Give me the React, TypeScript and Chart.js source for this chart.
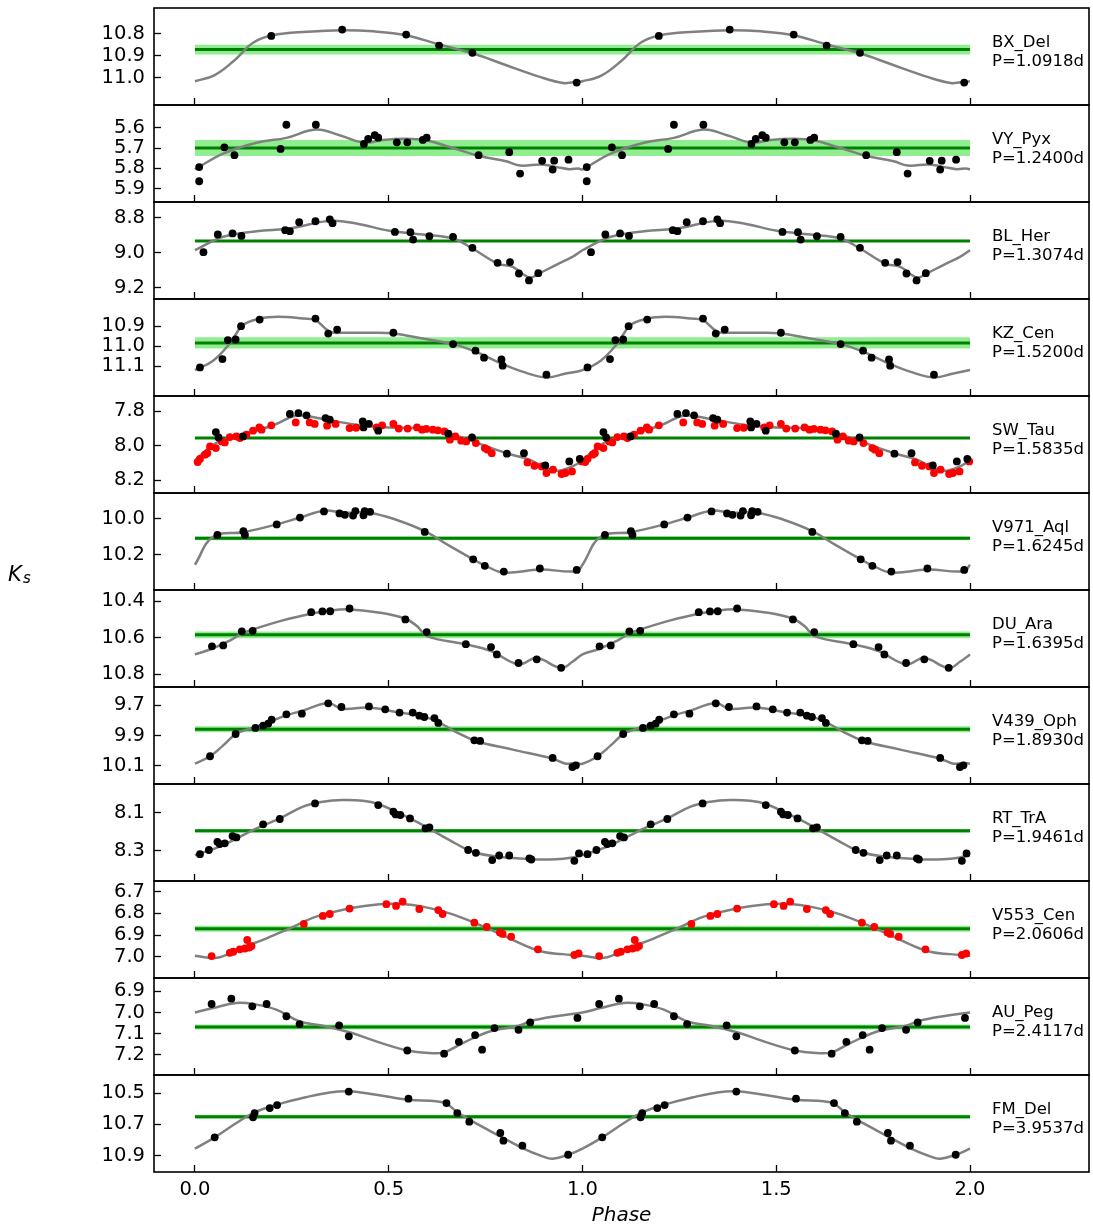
import React, { useEffect, useRef } from "react";
import { Chart, registerables } from "chart.js";

Chart.register(...registerables);

type Pt = [number, number];

// Phase-folded Ks photometry [phase, mag] and template fits, one block per star.

const bxDelBlack: Pt[] = [
  [0.197, 10.811], [0.38, 10.782], [0.545, 10.805], [0.63, 10.855], [0.716, 10.888], [0.985, 11.023],
];
const bxDelFit: Pt[] = [
  [0, 11.017], [0.05, 10.99], [0.1, 10.925], [0.15, 10.842], [0.2, 10.808], [0.29, 10.792], [0.38, 10.785],
  [0.46, 10.79], [0.545, 10.808], [0.63, 10.85], [0.716, 10.89], [0.8, 10.942], [0.89, 10.997],
  [0.95, 11.025], [0.975, 11.022],
];

const vyPyxBlack: Pt[] = [
  [0.011, 5.794], [0.011, 5.864], [0.076, 5.696], [0.102, 5.735], [0.221, 5.704], [0.236, 5.584],
  [0.312, 5.584], [0.436, 5.679], [0.447, 5.654], [0.464, 5.636], [0.473, 5.648], [0.521, 5.671],
  [0.548, 5.671], [0.588, 5.659], [0.598, 5.648], [0.732, 5.735], [0.811, 5.72], [0.839, 5.826],
  [0.896, 5.763], [0.923, 5.806], [0.927, 5.762], [0.964, 5.757],
];
const vyPyxFit: Pt[] = [
  [0, 5.805], [0.073, 5.727], [0.159, 5.673], [0.236, 5.649], [0.312, 5.608], [0.373, 5.636],
  [0.436, 5.673], [0.485, 5.659], [0.545, 5.653], [0.597, 5.661], [0.657, 5.694], [0.732, 5.738],
  [0.803, 5.765], [0.839, 5.786], [0.896, 5.781], [0.931, 5.793], [0.966, 5.804], [0.99, 5.801],
];

const blHerBlack: Pt[] = [
  [0.022, 8.998], [0.059, 8.897], [0.097, 8.891], [0.12, 8.905], [0.233, 8.872], [0.245, 8.878],
  [0.269, 8.827], [0.311, 8.821], [0.348, 8.81], [0.355, 8.832], [0.516, 8.882], [0.556, 8.884],
  [0.563, 8.926], [0.605, 8.907], [0.666, 8.91], [0.716, 8.973], [0.781, 9.059], [0.813, 9.055],
  [0.836, 9.12], [0.862, 9.16], [0.886, 9.118],
];
const blHerFit: Pt[] = [
  [0, 8.987], [0.073, 8.91], [0.159, 8.878], [0.245, 8.862], [0.348, 8.819], [0.416, 8.834],
  [0.502, 8.876], [0.588, 8.897], [0.666, 8.92], [0.716, 8.977], [0.781, 9.063], [0.82, 9.082],
  [0.863, 9.143], [0.888, 9.12], [0.931, 9.072], [0.974, 9.025],
];

const kzCenBlack: Pt[] = [
  [0.013, 11.107], [0.071, 11.065], [0.085, 10.97], [0.105, 10.967], [0.119, 10.9], [0.167, 10.867],
  [0.311, 10.862], [0.344, 10.937], [0.367, 10.917], [0.512, 10.933], [0.666, 10.99], [0.724, 11.023],
  [0.746, 11.058], [0.791, 11.067], [0.794, 11.098], [0.907, 11.143],
];
const kzCenFit: Pt[] = [
  [0, 11.12], [0.047, 11.073], [0.09, 10.987], [0.124, 10.895], [0.167, 10.862], [0.215, 10.853],
  [0.279, 10.862], [0.311, 10.87], [0.348, 10.928], [0.382, 10.933], [0.459, 10.933], [0.512, 10.937],
  [0.588, 10.962], [0.666, 10.99], [0.724, 11.028], [0.794, 11.09], [0.845, 11.128], [0.907, 11.157],
  [0.957, 11.137],
];

const swTauBlack: Pt[] = [
  [0.054, 7.92], [0.061, 7.951], [0.124, 7.945], [0.245, 7.815], [0.267, 7.81], [0.288, 7.823],
  [0.337, 7.839], [0.348, 7.848], [0.433, 7.858], [0.449, 7.872], [0.435, 7.893], [0.473, 7.912],
  [0.654, 7.929], [0.715, 7.951], [0.805, 8.045], [0.849, 8.042], [0.904, 8.113], [0.966, 8.09],
  [0.993, 8.076],
];
const swTauRed: Pt[] = [
  [0.007, 8.094], [0.013, 8.076], [0.026, 8.051], [0.032, 8.042], [0.039, 8.003], [0.054, 8.013],
  [0.069, 7.974], [0.077, 7.98], [0.09, 7.949], [0.107, 7.945], [0.116, 7.955], [0.133, 7.935],
  [0.15, 7.912], [0.166, 7.893], [0.172, 7.906], [0.197, 7.881], [0.26, 7.864], [0.296, 7.864],
  [0.309, 7.873], [0.341, 7.883], [0.363, 7.873], [0.399, 7.897], [0.416, 7.895], [0.469, 7.893],
  [0.483, 7.881], [0.512, 7.872], [0.526, 7.9], [0.549, 7.9], [0.573, 7.893], [0.586, 7.906],
  [0.597, 7.902], [0.614, 7.906], [0.627, 7.91], [0.644, 7.916], [0.658, 7.964], [0.672, 7.945],
  [0.687, 7.97], [0.7, 7.974], [0.725, 7.984], [0.748, 8.013], [0.755, 8.022], [0.766, 8.042],
  [0.858, 8.096], [0.876, 8.115], [0.895, 8.119], [0.907, 8.157], [0.924, 8.138], [0.946, 8.163],
  [0.956, 8.157], [0.973, 8.148], [0.998, 8.09],
];
const swTauFit: Pt[] = [
  [0, 8.084], [0.047, 7.993], [0.09, 7.951], [0.159, 7.912], [0.21, 7.873], [0.262, 7.825],
  [0.33, 7.844], [0.416, 7.877], [0.502, 7.893], [0.588, 7.9], [0.648, 7.922], [0.717, 7.974],
  [0.803, 8.042], [0.863, 8.08], [0.906, 8.129], [0.94, 8.144], [0.974, 8.119],
];

const v971AqlBlack: Pt[] = [
  [0.058, 10.091], [0.125, 10.07], [0.129, 10.091], [0.211, 10.032], [0.271, 9.994], [0.333, 9.96],
  [0.373, 9.971], [0.387, 9.979], [0.408, 9.983], [0.414, 9.958], [0.435, 9.981], [0.438, 9.958],
  [0.452, 9.962], [0.593, 10.074], [0.718, 10.227], [0.748, 10.263], [0.797, 10.295], [0.89, 10.278],
  [0.985, 10.286],
];
const v971AqlFit: Pt[] = [
  [0, 10.257], [0.047, 10.101], [0.125, 10.076], [0.211, 10.032], [0.271, 9.994], [0.333, 9.956],
  [0.382, 9.966], [0.452, 9.968], [0.519, 10.006], [0.593, 10.07], [0.657, 10.152], [0.718, 10.227],
  [0.748, 10.261], [0.797, 10.301], [0.89, 10.284], [0.985, 10.293],
];

const duAraBlack: Pt[] = [
  [0.044, 10.647], [0.073, 10.642], [0.121, 10.565], [0.149, 10.562], [0.3, 10.46], [0.329, 10.456],
  [0.349, 10.455], [0.399, 10.44], [0.543, 10.5], [0.598, 10.569], [0.699, 10.635], [0.764, 10.651],
  [0.779, 10.691], [0.835, 10.738], [0.882, 10.718], [0.945, 10.764],
];
const duAraFit: Pt[] = [
  [0, 10.691], [0.044, 10.66], [0.09, 10.615], [0.121, 10.578], [0.149, 10.555], [0.227, 10.505],
  [0.3, 10.469], [0.349, 10.451], [0.399, 10.445], [0.468, 10.46], [0.543, 10.496], [0.575, 10.54],
  [0.598, 10.591], [0.699, 10.636], [0.764, 10.673], [0.835, 10.745], [0.882, 10.711], [0.945, 10.765],
  [0.975, 10.73],
];

const v439OphBlack: Pt[] = [
  [0.039, 10.036], [0.105, 9.889], [0.156, 9.849], [0.176, 9.834], [0.189, 9.821], [0.198, 9.795],
  [0.236, 9.759], [0.276, 9.755], [0.344, 9.687], [0.378, 9.711], [0.449, 9.707], [0.491, 9.726],
  [0.528, 9.748], [0.562, 9.748], [0.579, 9.768], [0.592, 9.777], [0.618, 9.784], [0.628, 9.816],
  [0.721, 9.931], [0.736, 9.935], [0.923, 10.047], [0.974, 10.107], [0.983, 10.096],
];
const v439OphFit: Pt[] = [
  [0, 10.085], [0.039, 10.036], [0.073, 9.964], [0.107, 9.887], [0.156, 9.843], [0.236, 9.766],
  [0.276, 9.737], [0.344, 9.685], [0.378, 9.722], [0.449, 9.715], [0.528, 9.748], [0.588, 9.773],
  [0.628, 9.81], [0.674, 9.876], [0.725, 9.935], [0.82, 9.992], [0.923, 10.052], [0.957, 10.085],
  [0.98, 10.08],
];

const rtTraBlack: Pt[] = [
  [0.013, 8.318], [0.036, 8.296], [0.058, 8.253], [0.064, 8.265], [0.077, 8.261], [0.097, 8.223],
  [0.107, 8.23], [0.176, 8.161], [0.219, 8.133], [0.31, 8.051], [0.473, 8.06], [0.512, 8.095],
  [0.518, 8.109], [0.53, 8.112], [0.555, 8.13], [0.595, 8.182], [0.605, 8.177], [0.705, 8.296],
  [0.725, 8.311], [0.767, 8.349], [0.785, 8.325], [0.811, 8.325], [0.863, 8.34], [0.868, 8.346],
  [0.979, 8.353], [0.991, 8.314],
];
const rtTraFit: Pt[] = [
  [0, 8.323], [0.073, 8.27], [0.159, 8.182], [0.219, 8.13], [0.279, 8.068], [0.33, 8.042],
  [0.382, 8.033], [0.433, 8.037], [0.473, 8.054], [0.528, 8.104], [0.588, 8.165], [0.657, 8.244],
  [0.717, 8.305], [0.785, 8.332], [0.863, 8.344], [0.931, 8.344], [0.974, 8.335],
];

const v553CenRed: Pt[] = [
  [0.043, 6.997], [0.09, 6.982], [0.099, 6.977], [0.116, 6.966], [0.129, 6.962], [0.135, 6.923],
  [0.14, 6.958], [0.146, 6.951], [0.281, 6.849], [0.33, 6.812], [0.348, 6.803], [0.399, 6.778],
  [0.494, 6.758], [0.519, 6.766], [0.536, 6.746], [0.579, 6.78], [0.628, 6.785], [0.639, 6.803],
  [0.721, 6.843], [0.753, 6.863], [0.787, 6.888], [0.794, 6.895], [0.816, 6.908], [0.885, 6.966],
  [0.979, 6.992], [0.99, 6.985],
];
const v553CenFit: Pt[] = [
  [0, 6.995], [0.056, 7.005], [0.116, 6.962], [0.185, 6.915], [0.245, 6.869], [0.313, 6.815],
  [0.399, 6.777], [0.476, 6.758], [0.536, 6.757], [0.588, 6.769], [0.657, 6.8], [0.725, 6.846],
  [0.794, 6.9], [0.845, 6.943], [0.897, 6.977], [0.948, 6.988],
];

const auPegBlack: Pt[] = [
  [0.043, 6.96], [0.094, 6.935], [0.148, 6.971], [0.185, 6.96], [0.236, 7.018], [0.27, 7.055],
  [0.372, 7.061], [0.397, 7.113], [0.548, 7.18], [0.643, 7.195], [0.681, 7.139], [0.723, 7.107],
  [0.741, 7.176], [0.773, 7.074], [0.835, 7.082], [0.865, 7.047], [0.987, 7.026],
];
const auPegFit: Pt[] = [
  [0, 7.0], [0.047, 6.979], [0.107, 6.955], [0.159, 6.963], [0.21, 6.987], [0.27, 7.042],
  [0.33, 7.063], [0.399, 7.094], [0.468, 7.137], [0.548, 7.18], [0.605, 7.192], [0.643, 7.189],
  [0.691, 7.145], [0.76, 7.09], [0.835, 7.063], [0.865, 7.042], [0.931, 7.018],
];

const fmDelBlack: Pt[] = [
  [0.051, 10.783], [0.15, 10.655], [0.154, 10.628], [0.193, 10.596], [0.212, 10.577], [0.397, 10.491],
  [0.551, 10.536], [0.649, 10.564], [0.677, 10.628], [0.708, 10.683], [0.788, 10.755], [0.796, 10.804],
  [0.845, 10.836], [0.963, 10.894],
];
const fmDelFit: Pt[] = [
  [0, 10.855], [0.051, 10.783], [0.107, 10.691], [0.154, 10.623], [0.212, 10.574], [0.288, 10.526],
  [0.348, 10.496], [0.397, 10.489], [0.468, 10.511], [0.551, 10.543], [0.622, 10.553], [0.649, 10.568],
  [0.677, 10.623], [0.708, 10.67], [0.788, 10.777], [0.845, 10.851], [0.897, 10.904], [0.923, 10.919],
  [0.963, 10.894],
];

// Star metadata, in panel order (top to bottom)
const STAR_NAMES = [
  "BX_Del", "VY_Pyx", "BL_Her", "KZ_Cen", "SW_Tau", "V971_Aql",
  "DU_Ara", "V439_Oph", "RT_TrA", "V553_Cen", "AU_Peg", "FM_Del",
];
const PERIODS = [
  "1.0918", "1.2400", "1.3074", "1.5200", "1.5835", "1.6245",
  "1.6395", "1.8930", "1.9461", "2.0606", "2.4117", "3.9537",
];
const MEAN_KS = [10.873, 5.699, 8.934, 10.984, 7.955, 10.11, 10.584, 9.858, 8.195, 6.871, 7.069, 10.651];
const MEAN_KS_ERR = [0.022, 0.04, 0.005, 0.028, 0.004, 0.01, 0.018, 0.02, 0.01, 0.014, 0.012, 0.013];
const Y_BRIGHT = [10.684, 5.486, 8.711, 10.764, 7.711, 9.857, 10.339, 9.579, 7.949, 6.651, 6.837, 10.385];
const Y_FAINT = [11.125, 5.967, 9.266, 11.25, 8.273, 10.398, 10.869, 10.219, 8.459, 7.098, 7.296, 11.004];
const Y_TICKS = [
  [10.8, 10.9, 11.0], [5.6, 5.7, 5.8, 5.9], [8.8, 9.0, 9.2], [10.9, 11.0, 11.1],
  [7.8, 8.0, 8.2], [10.0, 10.2], [10.4, 10.6, 10.8], [9.7, 9.9, 10.1],
  [8.1, 8.3], [6.7, 6.8, 6.9, 7.0], [6.9, 7.0, 7.1, 7.2], [10.5, 10.7, 10.9],
];
const BLACK_OBS: Pt[][] = [
  bxDelBlack, vyPyxBlack, blHerBlack, kzCenBlack, swTauBlack, v971AqlBlack,
  duAraBlack, v439OphBlack, rtTraBlack, [], auPegBlack, fmDelBlack,
];
const RED_OBS: Pt[][] = [[], [], [], [], swTauRed, [], [], [], [], v553CenRed, [], []];
const FITS: Pt[][] = [
  bxDelFit, vyPyxFit, blHerFit, kzCenFit, swTauFit, v971AqlFit,
  duAraFit, v439OphFit, rtTraFit, v553CenFit, auPegFit, fmDelFit,
];
const X_TICKS = [0, 0.5, 1, 1.5, 2];

// Figure geometry
const FIG_W = 1093;
const FIG_H = 1229;
const PANEL_TOP0 = 8;
const PANEL_H = 97;
const PLOT_LEFT = 154;
const PLOT_RIGHT = 1091;
const X_MIN = -0.1056;
const X_MAX = 2.307;
const PAD = 6;
const LABEL_X = 992;
const FONT = '"DejaVu Sans", sans-serif';

// Two cycles of observations (phase and phase + 1)
const twoCycles = (pts: Pt[]) =>
  [...pts, ...pts.map(([p, m]) => [p + 1, m] as Pt)].map(([x, y]) => ({ x, y }));
// Fit drawn from phase 0 to 2, closing on its phase-0 value
const fitTwoCycles = (pts: Pt[]) =>
  [...pts, ...pts.map(([p, m]) => [p + 1, m] as Pt), [2, pts[0][1]] as Pt].map(([x, y]) => ({ x, y }));

function Panel({ idx }: { idx: number }) {
  const ref = useRef<HTMLCanvasElement | null>(null);
  const isLast = idx === STAR_NAMES.length - 1;
  const top = PANEL_TOP0 + idx * PANEL_H;
  const canvasTop = top - PAD;
  const bottomExtra = isLast ? FIG_H - (top + PANEL_H) : 0;
  const canvasH = isLast ? FIG_H - canvasTop : PANEL_H + 2 * PAD;

  useEffect(() => {
    if (!ref.current) return;
    const mean = MEAN_KS[idx];
    const err = MEAN_KS_ERR[idx];
    const lines = [STAR_NAMES[idx], `P=${PERIODS[idx]}d`];

    const frame = {
      id: "panelFrame",
      afterDraw(chart: any) {
        const { ctx, chartArea: a } = chart;
        ctx.save();
        ctx.strokeStyle = "#000";
        ctx.lineWidth = 1.6;
        ctx.strokeRect(a.left, a.top, a.right - a.left, a.bottom - a.top);
        ctx.restore();
      },
    };
    const starLabel = {
      id: "starLabel",
      afterDraw(chart: any) {
        const { ctx, chartArea: a } = chart;
        ctx.save();
        ctx.fillStyle = "#000";
        ctx.font = `16.5px ${FONT}`;
        ctx.textAlign = "left";
        ctx.textBaseline = "alphabetic";
        lines.forEach((t, i) => ctx.fillText(t, LABEL_X, a.top + 38.5 + i * 19));
        ctx.restore();
      },
    };

    const chart = new Chart(ref.current, {
      type: "scatter",
      data: {
        datasets: [
          {
            data: [{ x: 0, y: mean - err }, { x: 2, y: mean - err }],
            showLine: true, borderWidth: 0, borderColor: "rgba(0,0,0,0)",
            pointRadius: 0, fill: false, order: 5,
          },
          {
            data: [{ x: 0, y: mean + err }, { x: 2, y: mean + err }],
            showLine: true, borderWidth: 0, borderColor: "rgba(0,0,0,0)",
            pointRadius: 0, fill: "-1", backgroundColor: "#90ee90", order: 4,
          },
          {
            data: [{ x: 0, y: mean }, { x: 2, y: mean }],
            showLine: true, borderColor: "#008000", borderWidth: 3, pointRadius: 0, order: 3,
          },
          {
            data: fitTwoCycles(FITS[idx]),
            showLine: true, borderColor: "#808080", borderWidth: 2.5, pointRadius: 0,
            tension: 0.4, order: 2,
          },
          {
            data: twoCycles(RED_OBS[idx]),
            pointRadius: 3.9, pointBackgroundColor: "#ff0000", pointBorderWidth: 0, order: 1,
          },
          {
            data: twoCycles(BLACK_OBS[idx]),
            pointRadius: 3.9, pointBackgroundColor: "#000000", pointBorderWidth: 0, order: 0,
          },
        ],
      },
      options: {
        animation: false,
        responsive: false,
        devicePixelRatio: 1,
        events: [],
        layout: {
          padding: { left: 0, right: FIG_W - PLOT_RIGHT, top: PAD, bottom: isLast ? 0 : PAD },
        },
        plugins: { legend: { display: false }, tooltip: { enabled: false } },
        scales: {
          x: {
            type: "linear",
            position: "bottom",
            min: X_MIN,
            max: X_MAX,
            afterBuildTicks: (s: any) => {
              s.ticks = X_TICKS.map((v) => ({ value: v }));
            },
            afterFit: (s: any) => {
              s.height = bottomExtra;
              s.paddingLeft = 0;
              s.paddingRight = 0;
            },
            grid: {
              drawOnChartArea: false, drawTicks: true, tickLength: -7,
              tickColor: "#000", tickWidth: 1.3,
            },
            border: { display: false },
            ticks: {
              display: isLast, padding: 13, color: "#000", autoSkip: false, maxRotation: 0,
              font: { family: FONT, size: 19.5 },
              callback: (v: any) => Number(v).toFixed(1),
            },
            title: {
              display: isLast, text: "Phase", color: "#000",
              font: { family: FONT, size: 20, style: "italic" },
              padding: { top: 0, bottom: 1 },
            },
          },
          y: {
            type: "linear",
            position: "left",
            reverse: true,
            min: Y_BRIGHT[idx],
            max: Y_FAINT[idx],
            afterBuildTicks: (s: any) => {
              s.ticks = Y_TICKS[idx].map((v) => ({ value: v }));
            },
            afterFit: (s: any) => {
              s.width = PLOT_LEFT;
              s.paddingTop = 0;
              s.paddingBottom = 0;
            },
            grid: {
              drawOnChartArea: false, drawTicks: true, tickLength: -7,
              tickColor: "#000", tickWidth: 1.3,
            },
            border: { display: false },
            ticks: {
              padding: 16, color: "#000", autoSkip: false,
              font: { family: FONT, size: 19.5 },
              callback: (v: any) => Number(v).toFixed(1),
            },
          },
        },
      } as any,
      plugins: [frame, starLabel],
    });
    return () => chart.destroy();
  }, [idx]);

  return (
    <canvas
      ref={ref}
      width={FIG_W}
      height={canvasH}
      style={{ position: "absolute", left: 0, top: canvasTop, width: FIG_W, height: canvasH }}
    />
  );
}

export default function App() {
  return (
    <div
      style={{
        position: "absolute", left: 0, top: 0, width: FIG_W, height: FIG_H,
        background: "#fff", overflow: "hidden",
      }}
    >
      {STAR_NAMES.map((_, i) => (
        <Panel key={i} idx={i} />
      ))}
      <span
        style={{
          position: "absolute", left: 8, top: 564, fontFamily: FONT, fontStyle: "italic",
          fontSize: 21, lineHeight: "21px", color: "#000",
        }}
      >
        K
      </span>
      <span
        style={{
          position: "absolute", left: 23, top: 571, fontFamily: FONT, fontStyle: "italic",
          fontSize: 15, lineHeight: "15px", color: "#000",
        }}
      >
        s
      </span>
    </div>
  );
}
